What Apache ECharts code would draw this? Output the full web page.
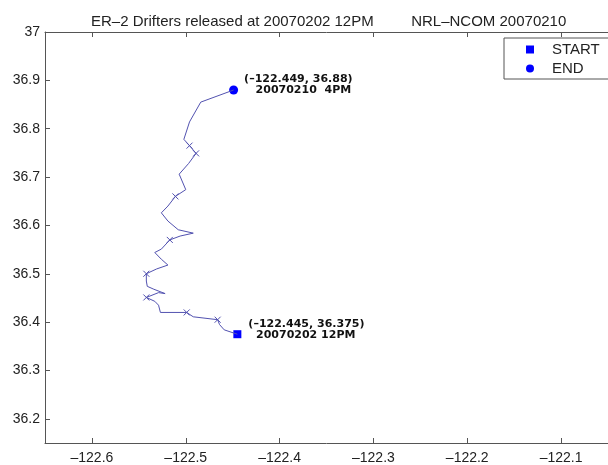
<!DOCTYPE html>
<html>
<head>
<meta charset="utf-8">
<script src="https://cdn.jsdelivr.net/npm/echarts@6/dist/echarts.min.js"></script>
<style>
  html, body { margin: 0; padding: 0; background: #fff; }
</style>
</head>
<body>
<div id="main" style="width: 608px; height: 465px;"></div>
<script>
// drifter track, start -> end
const trackLon = [-122.445, -122.459, -122.464, -122.466, -122.492, -122.499, -122.527, -122.529, -122.533, -122.542,
  -122.529, -122.522, -122.534, -122.541, -122.542, -122.542, -122.531, -122.519, -122.526, -122.533,
  -122.526, -122.517, -122.506, -122.492, -122.508, -122.519, -122.526, -122.519, -122.511, -122.500,
  -122.507, -122.497, -122.489, -122.496, -122.502, -122.496, -122.484, -122.449];
const trackLat = [36.375, 36.384, 36.395, 36.405, 36.411, 36.420, 36.420, 36.435, 36.443, 36.451,
  36.461, 36.459, 36.468, 36.474, 36.485, 36.500, 36.510, 36.518, 36.530, 36.544,
  36.551, 36.570, 36.578, 36.584, 36.591, 36.609, 36.626, 36.640, 36.660, 36.674,
  36.706, 36.728, 36.749, 36.765, 36.778, 36.814, 36.855, 36.880];
// points of the track drawn with an "x"
const crossIdx = [3, 5, 9, 15, 21, 28, 32, 33];

const startPt = [-122.445, 36.375];
const endPt = [-122.449, 36.88];
const startText = ['(–122.445, 36.375)', '  20070202 12PM'];
const endText = ['(–122.449, 36.88)', '   20070210  4PM'];

const xTicks = [-122.6, -122.5, -122.4, -122.3, -122.2, -122.1];
const yTicks = [36.2, 36.3, 36.4, 36.5, 36.6, 36.7, 36.8, 36.9, 37];

const titleText = 'ER–2 Drifters released at 20070202 12PM         NRL–NCOM 20070210';

const font = 'Liberation Sans, Arial, Helvetica, sans-serif';
const labelFont = 'DejaVu Sans, sans-serif';
const axisColor = '#555';
const crossPath = 'path://M0,0L10,10M10,0L0,10';

const myChart = echarts.init(document.getElementById('main'));

const track = trackLon.map((x, i) => [x, trackLat[i]]);
const crosses = crossIdx.map(i => track[i]);

function fmt(v) {
  return String(v).replace('-', '–');
}

const option = {
  animation: false,
  backgroundColor: '#fff',
  title: {
    text: titleText,
    left: 86,
    top: 9,
    textStyle: { fontFamily: font, fontSize: 15, fontWeight: 'normal', color: '#222' }
  },
  legend: {
    data: [
      { name: 'START', icon: 'rect' },
      { name: 'END', icon: 'circle' }
    ],
    orient: 'vertical',
    left: 504,
    top: 38,
    padding: [4, 40, 3, 22],
    itemWidth: 8,
    itemHeight: 8,
    itemGap: 4,
    borderColor: '#555',
    borderWidth: 1,
    backgroundColor: '#fff',
    textStyle: { fontFamily: font, fontSize: 15, color: '#222', lineHeight: 15, padding: [0, 0, 0, 13] }
  },
  grid: {
    left: 45,
    top: 32,
    width: 569,
    height: 415
  },
  xAxis: [
    {
      type: 'value',
      min: -122.65,
      max: -122.05,
      position: 'bottom',
      splitLine: { show: false },
      axisLine: { onZero: false, lineStyle: { color: axisColor } },
      axisTick: { inside: true, length: 5, customValues: xTicks, lineStyle: { color: axisColor } },
      axisLabel: {
        customValues: xTicks, margin: 8, formatter: fmt,
        fontFamily: font, fontSize: 14, color: '#222'
      }
    },
    {
      type: 'value',
      min: -122.65,
      max: -122.05,
      position: 'top',
      splitLine: { show: false },
      axisLine: { onZero: false, lineStyle: { color: axisColor } },
      axisTick: { inside: true, length: 5, customValues: xTicks, lineStyle: { color: axisColor } },
      axisLabel: { show: false }
    }
  ],
  yAxis: {
    type: 'value',
    min: 36.15,
    max: 37,
    splitLine: { show: false },
    axisLine: { show: true, onZero: false, lineStyle: { color: axisColor } },
    axisTick: { show: true, inside: true, length: 5, customValues: yTicks, lineStyle: { color: axisColor } },
    axisLabel: {
      customValues: yTicks, margin: 5,
      fontFamily: font, fontSize: 14, color: '#222'
    }
  },
  series: [
    {
      name: 'track',
      type: 'line',
      data: track,
      showSymbol: false,
      silent: true,
      lineStyle: { color: '#5252b0', width: 1 }
    },
    {
      name: 'cross',
      type: 'scatter',
      data: crosses,
      symbol: crossPath,
      symbolSize: 6,
      silent: true,
      itemStyle: { color: 'none', borderColor: '#5252b0', borderWidth: 1, opacity: 1 }
    },
    {
      name: 'START',
      type: 'scatter',
      data: [startPt],
      symbol: 'rect',
      symbolSize: 8,
      itemStyle: { color: '#0000ff', opacity: 1 },
      label: {
        show: true,
        position: 'right',
        distance: 7,
        offset: [0, -5],
        formatter: startText.join('\n'),
        fontFamily: labelFont, fontSize: 11, fontWeight: 'bold', color: '#111', lineHeight: 11, align: 'left'
      }
    },
    {
      name: 'END',
      type: 'scatter',
      data: [endPt],
      symbol: 'circle',
      symbolSize: 9,
      itemStyle: { color: '#0000ff', opacity: 1 },
      label: {
        show: true,
        position: 'right',
        distance: 6,
        offset: [0, -5],
        formatter: endText.join('\n'),
        fontFamily: labelFont, fontSize: 11, fontWeight: 'bold', color: '#111', lineHeight: 11, align: 'left'
      }
    }
  ]
};
myChart.setOption(option);
</script>
</body>
</html>
